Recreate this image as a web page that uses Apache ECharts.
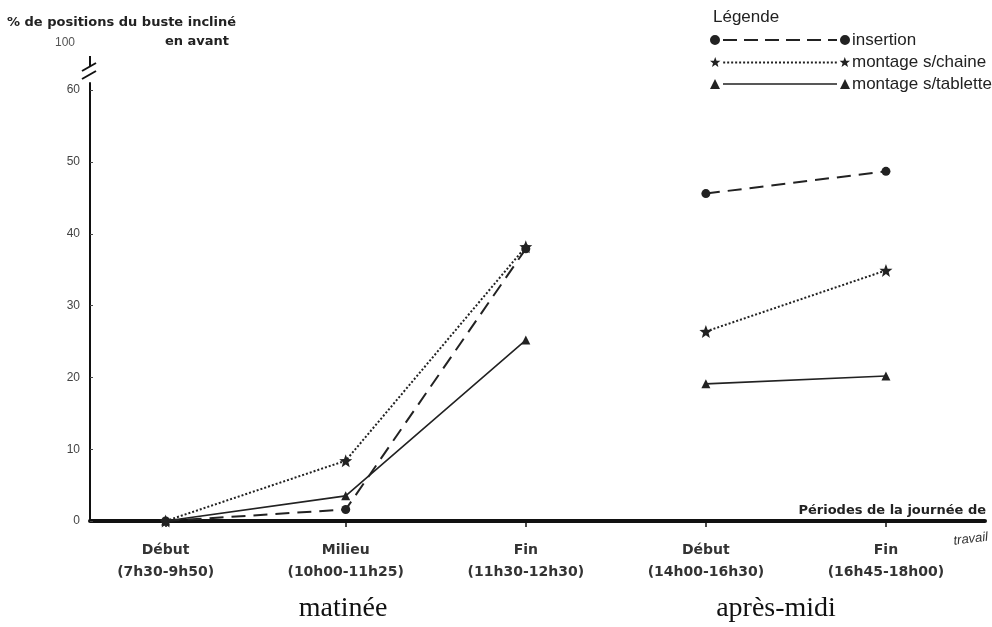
<!DOCTYPE html>
<html><head><meta charset="utf-8">
<script src="https://cdn.jsdelivr.net/npm/echarts@6/dist/echarts.min.js"></script>
<style>html,body{margin:0;padding:0;background:#fff}#c{width:992px;height:627px}</style>
</head><body><div id="c"></div>
<script>
// ---- data ----
const categories = ['Début\n(7h30-9h50)', 'Milieu\n(10h00-11h25)', 'Fin\n(11h30-12h30)', 'Début\n(14h00-16h30)', 'Fin\n(16h45-18h00)'];
const catPositions = [1, 2, 3, 4, 5];
const yTicks = [0, 10, 20, 30, 40, 50, 60];
const insertion = [0, 1.6, 37.9, 45.6, 48.7];
const montageChaine = [0, 8.4, 38.2, 26.4, 34.9];
const montageTablette = [0, 3.5, 25.2, 19.1, 20.2];
const seriesNames = ['insertion', 'montage s/chaine', 'montage s/tablette'];
const morningIdx = [0, 1, 2];
const afternoonIdx = [3, 4];

// ---- styles ----
const starPath = (cx, cy, r) => {
  let d = '';
  for (let k = 0; k < 10; k++) {
    const a = -Math.PI / 2 + k * Math.PI / 5;
    const rr = k % 2 ? r * 0.42 : r;
    d += (k ? 'L' : 'M') + (cx + rr * Math.cos(a)).toFixed(2) + ',' + (cy + rr * Math.sin(a)).toFixed(2) + ' ';
  }
  return d + 'Z ';
};
const star = 'path://' + starPath(0, 0, 10);
const W = 140, H = 10;
function dashRects(dash, gap, th) {
  let d = '';
  for (let x = 13; x < W - 13; x += dash + gap) {
    const w = Math.min(dash, W - 13 - x);
    d += `M${x},${5 - th / 2} h${w} v${th} h${-w} Z `;
  }
  return d;
}
const circ = cx => `M${cx - 5},5 A5,5 0 1,0 ${cx + 5},5 A5,5 0 1,0 ${cx - 5},5 Z `;
const tri = cx => `M${cx - 5},10 L${cx},0 L${cx + 5},10 Z `;
const legendIcons = {
  'insertion': 'path://' + circ(5) + dashRects(14, 7, 2) + circ(135),
  'montage s/chaine': 'path://' + starPath(5, 5, 5.5) + dashRects(2, 2, 2) + starPath(135, 5, 5.5),
  'montage s/tablette': 'path://' + tri(5) + dashRects(200, 0, 1.6) + tri(135)
};
const styles = {
  'insertion': {symbol: 'circle', symbolSize: 9, lineStyle: {type: [14, 8], width: 2}},
  'montage s/chaine': {symbol: star, symbolSize: 13, lineStyle: {type: [2, 2], width: 2}},
  'montage s/tablette': {symbol: 'triangle', symbolSize: 9, lineStyle: {type: 'solid', width: 1.6}}
};
const values = {'insertion': insertion, 'montage s/chaine': montageChaine, 'montage s/tablette': montageTablette};

function pts(arr, idx) { return idx.map(i => [catPositions[i], arr[i]]); }

const series = [];
seriesNames.forEach(n => {
  [morningIdx, afternoonIdx].forEach(idx => {
    series.push({
      name: n, type: 'line', data: pts(values[n], idx),
      symbol: styles[n].symbol, symbolSize: styles[n].symbolSize,
      itemStyle: {color: '#222'},
      lineStyle: Object.assign({color: '#222'}, styles[n].lineStyle),
      z: 3, animation: false
    });
  });
});

const chart = echarts.init(document.getElementById('c'));
chart.setOption({
  animation: false,
  backgroundColor: '#fff',
  grid: {left: 90, right: 7, top: 83, bottom: 106, containLabel: false},
  xAxis: {
    type: 'value', min: 0.58, max: 5.55,
    splitLine: {show: false},
    axisLine: {lineStyle: {color: '#111', width: 4}},
    axisTick: {customValues: catPositions, length: 6, lineStyle: {color: '#111', width: 1.5}},
    axisLabel: {
      customValues: catPositions,
      formatter: v => categories[catPositions.indexOf(v)] || '',
      color: '#333', fontFamily: 'DejaVu Sans', fontWeight: 'bold', fontSize: 14,
      lineHeight: 22, margin: 18
    }
  },
  yAxis: {
    type: 'value', min: 0, max: 61,
    splitLine: {show: false},
    axisLine: {show: true, lineStyle: {color: '#111', width: 2}},
    axisTick: {customValues: yTicks, inside: true, length: 3, lineStyle: {color: '#444'}},
    axisLabel: {customValues: yTicks, color: '#444', fontFamily: 'Liberation Sans, Arial', fontSize: 12, margin: 10}
  },
  legend: {
    orient: 'vertical', left: 705, top: 25,
    data: seriesNames.map(n => ({name: n, icon: legendIcons[n]})),
    itemWidth: W, itemHeight: H, itemGap: 2, symbolKeepAspect: false,
    itemStyle: {color: '#222'},
    textStyle: {color: '#222', fontFamily: 'Liberation Sans, Arial', fontSize: 17, lineHeight: 20, padding: [0, 0, 0, -3]}
  },
  graphic: [
    {type: 'text', left: 7, top: 16, style: {text: '% de positions du buste incliné', fill: '#222', font: 'bold 13px DejaVu Sans'}},
    {type: 'text', left: 165, top: 35, style: {text: 'en avant', fill: '#222', font: 'bold 13px DejaVu Sans'}},
    {type: 'text', left: 55, top: 37, style: {text: '100', fill: '#555', font: '12px Liberation Sans, Arial'}},
    {type: 'line', shape: {x1: 82, y1: 71, x2: 96, y2: 63}, style: {stroke: '#111', lineWidth: 2}},
    {type: 'line', shape: {x1: 82, y1: 79, x2: 96, y2: 71}, style: {stroke: '#111', lineWidth: 2}},
    {type: 'line', shape: {x1: 90, y1: 56, x2: 90, y2: 66}, style: {stroke: '#111', lineWidth: 2}},
    {type: 'text', left: 713, top: 9, style: {text: 'Légende', fill: '#222', font: '17px Liberation Sans, Arial'}},
    {type: 'text', x: 986, y: 511, style: {text: 'Périodes de la journée de', fill: '#222', font: 'bold 13px DejaVu Sans', align: 'right', verticalAlign: 'middle'}},
    {type: 'text', x: 988, y: 537, rotation: 0.12, style: {text: 'travail', fill: '#333', font: 'italic 13px Liberation Sans, Arial', align: 'right', verticalAlign: 'middle'}},
    {type: 'text', x: 343, y: 609, style: {text: 'matinée', fill: '#111', font: '28px Liberation Serif, DejaVu Serif, serif', align: 'center', verticalAlign: 'middle'}},
    {type: 'text', x: 776, y: 609, style: {text: 'après-midi', fill: '#111', font: '28px Liberation Serif, DejaVu Serif, serif', align: 'center', verticalAlign: 'middle'}}
  ],
  series: series
});
</script></body></html>
